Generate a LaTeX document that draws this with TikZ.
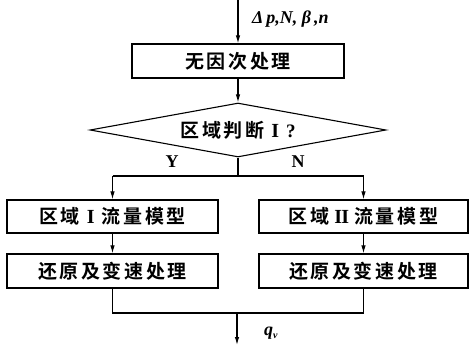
\documentclass[tikz,border=0pt]{standalone}
\usepackage{fontspec}
\usetikzlibrary{shapes.geometric,arrows.meta}
\newfontfamily\cjk[LetterSpace=14]{Noto Sans CJK SC Bold}
\newfontfamily\lat{Liberation Serif}
\newcommand{\RI}{{\lat\bfseries\fontsize{20}{20}\selectfont\hspace{7pt}I\hspace{7pt}}}
\newcommand{\RII}{{\lat\bfseries\fontsize{20}{20}\selectfont\hspace{5pt}I\kern-0.8ptI\hspace{5pt}}}
\begin{document}
\begin{tikzpicture}[x=1pt,y=-1pt,
  box/.style={draw,line width=1.2pt,minimum width=211pt,minimum height=33pt,inner sep=0pt,font=\cjk\fontsize{19}{22}\selectfont},
  lab/.style={font=\lat\bfseries\fontsize{18}{20}\selectfont,inner sep=0pt},
  ln/.style={line width=1.1pt},
  arr/.style={line width=1.1pt,-{Latex[length=8pt,width=4.5pt]}}]
\useasboundingbox (0,0) rectangle (469,345);
\node[box,minimum width=212pt,minimum height=34pt] (b1) at (238,61) {无因次处理};
\node[draw,line width=1.1pt,diamond,aspect=5.5,minimum width=296pt,minimum height=54pt,inner sep=1pt,font=\cjk\fontsize{19}{22}\selectfont] (d) at (238,130) {区域判断\RI{\lat\bfseries\fontsize{19}{20}\selectfont ?}};
\node[box] (l1) at (112.5,216.5) {区域\RI 流量模型};
\node[box,minimum height=34pt] (l2) at (112.5,271) {还原及变速处理};
\node[box,minimum width=209pt] (r1) at (363.5,216.5) {区域\RII 流量模型};
\node[box,minimum width=209pt,minimum height=34pt] (r2) at (363.5,271) {还原及变速处理};
\node[lab] (y) at (172,162) {Y};
\node[lab] (n) at (298,162) {N};
\node[lab,anchor=west] (in) at (252,19) {\itshape Δ\,p,N, β\,,n};
\node[lab,anchor=west] (out) at (264,333) {\itshape q\raisebox{-3pt}{\fontsize{10}{10}\selectfont v}};
\coordinate (top) at (238,0);
\coordinate (split) at (238,176);
\coordinate (sl) at (112.5,176);
\coordinate (sr) at (363.5,176);
\coordinate (ml) at (112.5,313);
\coordinate (mr) at (363.5,313);
\coordinate (mc) at (237,313);
\coordinate (end) at (237,345);
\draw[arr] (top) -- (b1.north);
\draw[arr] (b1.south) -- (d.north);
\draw[ln] (d.south) -- (split);
\draw[ln] (sl) -- (sr);
\draw[arr] (sl) -- (l1.north);
\draw[arr] (sr) -- (r1.north);
\draw[arr] (l1.south) -- (l2.north);
\draw[arr] (r1.south) -- (r2.north);
\draw[ln] (l2.south) -- (ml) -- (mr) -- (r2.south);
\draw[arr] (mc) -- (end);
\end{tikzpicture}
\end{document}
